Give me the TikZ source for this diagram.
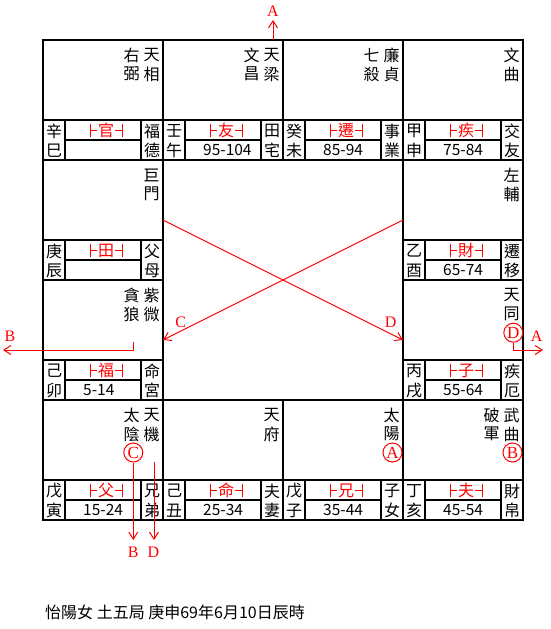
\documentclass[tikz,border=0pt]{standalone}
\usepackage{fontspec}
\usetikzlibrary{arrows.meta}
\newfontfamily\cjk{Noto Sans CJK TC}
\newfontfamily\latsf{Liberation Serif}
\tikzset{
  blk/.style={line width=2pt, black},
  stx/.style={font=\cjk\fontsize{16}{16}\selectfont, inner sep=0pt, anchor=center},
  pal/.style={stx, red},
  num/.style={font=\cjk\fontsize{15.5}{15.5}\selectfont, inner sep=0pt, anchor=west},
  lbl/.style={font=\latsf\fontsize{16}{16}\selectfont, red, inner sep=0pt},
  redline/.style={red, line width=1pt},
  arr/.style={redline, -{Straight Barb[length=7pt,width=9pt]}},
  circ/.style={circle, draw=red, line width=1pt, minimum size=19pt, inner sep=0pt, red, font=\latsf\fontsize{17}{17}\selectfont},
}
% #1 id, #2 col, #3 row, #4 stem, #5 branch, #6 red palace, #7 range, #8 #9 palace name
\newcommand\palcell[9]{%
  \begin{scope}[shift={({43+120*#2},{40+120*#3})}]
    \draw[blk] (0,0) rectangle (120,120);
    \draw[blk] (0,80) -- (120,80) (22,80) -- (22,120) (98,80) -- (98,120) (22,100) -- (98,100);
    \node[stx] (#1-g1) at (11,91) {#4};
    \node[stx] (#1-g2) at (11,110.5) {#5};
    \node[pal] (#1-p) at (63,90.5) {#6};
    \draw[redline] (47,84) -- (47,97) (47,90.5) -- (54,90.5)
                   (79,84) -- (79,97) (79,90.5) -- (72,90.5);
    \if\relax\detokenize{#7}\relax\else
      \node[num] (#1-n) at (40,110) {#7};
    \fi
    \node[stx] (#1-m1) at (109,91) {#8};
    \node[stx] (#1-m2) at (109,110.5) {#9};
  \end{scope}}
% #1 id, #2 col, #3 row, #4 #5 right column, #6 #7 left column
\newcommand\palstars[7]{%
  \begin{scope}[shift={({43+120*#2},{40+120*#3})}]
    \node[stx] (#1-r1) at (108.5,15) {#4};
    \node[stx] (#1-r2) at (108.5,34) {#5};
    \if\relax\detokenize{#6}\relax\else
      \node[stx] (#1-l1) at (88.5,15) {#6};
      \node[stx] (#1-l2) at (88.5,34) {#7};
    \fi
  \end{scope}}
\begin{document}
\begin{tikzpicture}[x=1pt,y=-1pt]
  \useasboundingbox (0,0) rectangle (550,629);
  \fill[white] (0,0) rectangle (550,629);

  \palcell{c00}{0}{0}{辛}{巳}{官}{}{福}{德}
  \palcell{c10}{1}{0}{壬}{午}{友}{95-104}{田}{宅}
  \palcell{c20}{2}{0}{癸}{未}{遷}{85-94}{事}{業}
  \palcell{c30}{3}{0}{甲}{申}{疾}{75-84}{交}{友}
  \palcell{c01}{0}{1}{庚}{辰}{田}{}{父}{母}
  \palcell{c31}{3}{1}{乙}{酉}{財}{65-74}{遷}{移}
  \palcell{c02}{0}{2}{己}{卯}{福}{5-14}{命}{宮}
  \palcell{c32}{3}{2}{丙}{戌}{子}{55-64}{疾}{厄}
  \palcell{c03}{0}{3}{戊}{寅}{父}{15-24}{兄}{弟}
  \palcell{c13}{1}{3}{己}{丑}{命}{25-34}{夫}{妻}
  \palcell{c23}{2}{3}{戊}{子}{兄}{35-44}{子}{女}
  \palcell{c33}{3}{3}{丁}{亥}{夫}{45-54}{財}{帛}

  \palstars{c00}{0}{0}{天}{相}{右}{弼}
  \palstars{c10}{1}{0}{天}{梁}{文}{昌}
  \palstars{c20}{2}{0}{廉}{貞}{七}{殺}
  \palstars{c30}{3}{0}{文}{曲}{}{}
  \palstars{c01}{0}{1}{巨}{門}{}{}
  \palstars{c31}{3}{1}{左}{輔}{}{}
  \palstars{c02}{0}{2}{紫}{微}{貪}{狼}
  \palstars{c32}{3}{2}{天}{同}{}{}
  \palstars{c03}{0}{3}{天}{機}{太}{陰}
  \palstars{c13}{1}{3}{天}{府}{}{}
  \palstars{c23}{2}{3}{太}{陽}{}{}
  \palstars{c33}{3}{3}{武}{曲}{破}{軍}

  % circled markers
  \node[circ] (cA) at (392.5,452.5) {A};
  \node[circ] (cB) at (512.5,452.5) {B};
  \node[circ] (cC) at (133.3,452.5) {C};
  \node[circ] (cD) at (513.3,332.7) {D};

  % connector end points
  \coordinate (topS) at (273,40);
  \coordinate (topE) at (273,20);
  \coordinate (lS) at (133.3,342);
  \coordinate (lE) at (3,350);
  \coordinate (rE) at (543,350);
  \coordinate (bC) at (133.3,540);
  \coordinate (dS) at (154,462);
  \coordinate (dE) at (154,540);
  \coordinate (xL1) at (163,220);
  \coordinate (xR1) at (403,340);
  \coordinate (xR2) at (403,220);
  \coordinate (xL2) at (163,340);

  \draw[arr] (topS) -- (topE);
  \draw[arr] (lS) |- (lE);
  \draw[arr] (cD.south) |- (rE);
  \draw[arr] (cC.south) -- (bC);
  \draw[arr] (dS) -- (dE);
  \draw[arr] (xL1) -- (xR1);
  \draw[arr] (xR2) -- (xL2);

  % letter labels
  \node[lbl] (tA) at (273,11) {A};
  \node[lbl] (tBl) at (10,336) {B};
  \node[lbl] (tAr) at (536.7,336) {A};
  \node[lbl] (tBb) at (133.3,552) {B};
  \node[lbl] (tDb) at (153.5,552) {D};
  \node[lbl] (tC) at (180.7,322) {C};
  \node[lbl] (tD) at (390.7,322) {D};

  % footer
  \node[font=\cjk\fontsize{16}{16}\selectfont, inner sep=0pt, anchor=west] (foot) at (45,612) {怡陽女 土五局 庚申69年6月10日辰時};
\end{tikzpicture}
\end{document}
